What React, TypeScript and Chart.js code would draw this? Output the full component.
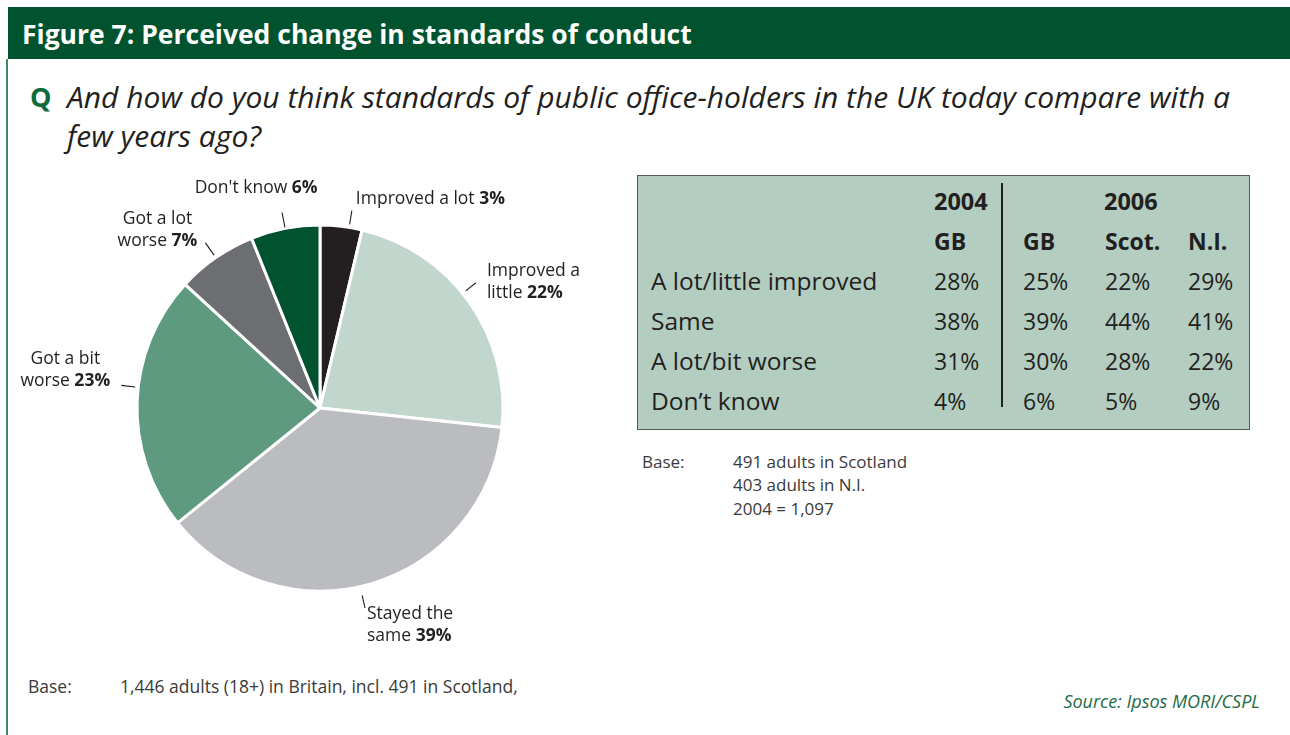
import React, { useEffect, useRef } from "react";
import { Chart, registerables } from "chart.js";

Chart.register(...registerables);

// ---- Data ----
const sliceNames: string[][] = [
  ["Improved a lot"],
  ["Improved a", "little"],
  ["Stayed the", "same"],
  ["Got a bit", "worse"],
  ["Got a lot", "worse"],
  ["Don't know"],
];
// Percentages printed on the labels
const printedPercents = [3, 22, 39, 23, 7, 6];
// Shares as drawn by the slices of the reference pie
const sliceShares = [3.7, 23.0, 37.5, 22.6, 7.1, 6.1];

const tableRowLabels = ["A lot/little improved", "Same", "A lot/bit worse", "Don’t know"];
const gb2004 = [28, 38, 31, 4];
const gb2006 = [25, 39, 30, 6];
const scot2006 = [22, 44, 28, 5];
const ni2006 = [29, 41, 22, 9];
const tableYears = ["2004", "2006"];
const tableColumnHeads = ["GB", "GB", "Scot.", "N.I."];

// ---- Styles / layout ----
const sliceColors = ["#231f20", "#c1d7cd", "#bbbcc0", "#5e9a80", "#6d6e71", "#00532e"];
const FONT = '"Open Sans", "Noto Sans", sans-serif';
const TEXT = "#231f20";
const DARK_GREEN = "#00532e";
const PIE_FONT_SIZE = 17.5;

const labelLayout = [
  { nudge: 2.5, r0: 3, r1: 17, dx: 4, dy: -12, align: "left" },
  { nudge: -3.5, r0: 4, r1: 17, dx: 11, dy: -12, align: "left" },
  { nudge: 3.7, r0: 9, r1: 22, dx: 2, dy: 6, align: "left" },
  { nudge: 4.7, r0: 3, r1: 17, dx: -56, dy: -26, align: "center" },
  { nudge: 0, r0: 3, r1: 18, dx: -48, dy: -24, align: "center" },
  { nudge: 0, r0: 1, r1: 16, dx: -26, dy: -25, align: "center" },
];

const pieLabelPlugin = {
  id: "pieLabels",
  afterDraw(chart: any) {
    const ctx = chart.ctx as CanvasRenderingContext2D;
    const meta = chart.getDatasetMeta(0);
    ctx.save();
    meta.data.forEach((arc: any, i: number) => {
      const lay = labelLayout[i];
      const { x: cx, y: cy, startAngle, endAngle, outerRadius } = arc.getProps(
        ["x", "y", "startAngle", "endAngle", "outerRadius"],
        true
      );
      const mid = (startAngle + endAngle) / 2 + (lay.nudge * Math.PI) / 180;
      const R = outerRadius;
      const p0 = { x: cx + Math.cos(mid) * (R + lay.r0), y: cy + Math.sin(mid) * (R + lay.r0) };
      const p1 = { x: cx + Math.cos(mid) * (R + lay.r1), y: cy + Math.sin(mid) * (R + lay.r1) };
      ctx.strokeStyle = TEXT;
      ctx.lineWidth = 1.1;
      ctx.beginPath();
      ctx.moveTo(p0.x, p0.y);
      ctx.lineTo(p1.x, p1.y);
      ctx.stroke();

      const lines = sliceNames[i];
      const pct = printedPercents[i] + "%";
      const ax = p1.x + lay.dx;
      let ly = p1.y + lay.dy;
      ctx.fillStyle = TEXT;
      ctx.textBaseline = "middle";
      ctx.textAlign = "left";
      lines.forEach((line, li) => {
        const isLast = li === lines.length - 1;
        const normalFont = `400 ${PIE_FONT_SIZE}px ${FONT}`;
        const boldFont = `700 ${PIE_FONT_SIZE}px ${FONT}`;
        ctx.font = normalFont;
        const txt = isLast ? line + " " : line;
        const w1 = ctx.measureText(txt).width;
        ctx.font = boldFont;
        const w2 = isLast ? ctx.measureText(pct).width : 0;
        const total = w1 + w2;
        const sx = lay.align === "center" ? ax - total / 2 : ax;
        ctx.font = normalFont;
        ctx.fillText(txt, sx, ly);
        if (isLast) {
          ctx.font = boldFont;
          ctx.fillText(pct, sx + w1, ly);
        }
        ly += 22;
      });
    });
    ctx.restore();
  },
};

function PieChart() {
  const ref = useRef<HTMLCanvasElement | null>(null);
  useEffect(() => {
    if (!ref.current) return;
    const chart = new Chart(ref.current, {
      type: "pie",
      data: {
        labels: sliceNames.map((l) => l.join(" ")),
        datasets: [
          {
            data: sliceShares,
            backgroundColor: sliceColors,
            borderColor: "#ffffff",
            borderWidth: 3,
          },
        ],
      },
      options: {
        responsive: false,
        animation: false,
        events: [],
        layout: { padding: { left: 135.5, right: 135.5, top: 63.5, bottom: 67.5 } },
        plugins: { legend: { display: false }, tooltip: { enabled: false } },
      },
      plugins: [pieLabelPlugin],
    });
    return () => chart.destroy();
  }, []);
  return (
    <canvas
      ref={ref}
      width={640}
      height={500}
      style={{ position: "absolute", left: 0, top: 160, width: 640, height: 500 }}
    />
  );
}

function Abs(props: { left: number; cy: number; size: number; children: any; style?: any }) {
  const lh = Math.round(props.size * 1.4);
  return (
    <div
      style={{
        position: "absolute",
        left: props.left,
        top: props.cy - lh / 2,
        lineHeight: lh + "px",
        fontSize: props.size,
        whiteSpace: "nowrap",
        ...(props.style || {}),
      }}
    >
      {props.children}
    </div>
  );
}

export default function App() {
  const colX = [934, 1023, 1105, 1188];
  const rowY = [281, 321, 361, 401];
  const cols = [gb2004, gb2006, scot2006, ni2006];
  const NOTE = { color: "#3a3a3a" };
  return (
    <div
      style={{
        position: "absolute",
        left: 0,
        top: 0,
        width: 1290,
        height: 735,
        overflow: "hidden",
        background: "#ffffff",
        fontFamily: FONT,
        color: TEXT,
      }}
    >
      {/* header */}
      <div style={{ position: "absolute", left: 8, top: 7, width: 1282, height: 52, background: DARK_GREEN }} />
      <Abs left={22} cy={34} size={26.5} style={{ color: "#ffffff", fontWeight: 700 }}>
        Figure 7: Perceived change in standards of conduct
      </Abs>
      <div style={{ position: "absolute", left: 6, top: 59, width: 2, height: 676, background: "#3f8a64" }} />

      {/* question */}
      <Abs left={30} cy={97} size={27} style={{ color: "#0b6b3a", fontWeight: 700 }}>
        Q
      </Abs>
      <Abs left={67} cy={97} size={30} style={{ fontStyle: "italic" }}>
        And how do you think standards of public office-holders in the UK today compare with a
      </Abs>
      <Abs left={67} cy={136} size={30} style={{ fontStyle: "italic" }}>
        few years ago?
      </Abs>

      <PieChart />

      {/* table */}
      <div
        style={{
          position: "absolute",
          left: 637,
          top: 175,
          width: 611,
          height: 253,
          background: "#b3cdc1",
          border: "1.5px solid #58595b",
        }}
      />
      <div style={{ position: "absolute", left: 1001, top: 183, width: 1.5, height: 224, background: "#231f20" }} />
      <Abs left={934} cy={201} size={23.5} style={{ fontWeight: 700 }}>
        {tableYears[0]}
      </Abs>
      <Abs left={1104} cy={201} size={23.5} style={{ fontWeight: 700 }}>
        {tableYears[1]}
      </Abs>
      {tableColumnHeads.map((h, i) => (
        <Abs key={"h" + i} left={colX[i]} cy={241} size={23} style={{ fontWeight: 700 }}>
          {h}
        </Abs>
      ))}
      {tableRowLabels.map((r, ri) => (
        <Abs key={"r" + ri} left={651} cy={rowY[ri]} size={24.5}>
          {r}
        </Abs>
      ))}
      {cols.map((col, ci) =>
        col.map((v, ri) => (
          <Abs key={"c" + ci + "_" + ri} left={colX[ci]} cy={rowY[ri]} size={23}>
            {v + "%"}
          </Abs>
        ))
      )}

      {/* table base note */}
      <Abs left={642} cy={462} size={17} style={NOTE}>
        Base:
      </Abs>
      <Abs left={733} cy={462} size={17} style={NOTE}>
        491 adults in Scotland
      </Abs>
      <Abs left={733} cy={485} size={17} style={NOTE}>
        403 adults in N.I.
      </Abs>
      <Abs left={733} cy={509} size={17} style={NOTE}>
        2004 = 1,097
      </Abs>

      {/* bottom base note */}
      <Abs left={28} cy={686} size={17.5} style={NOTE}>
        Base:
      </Abs>
      <Abs left={120} cy={686} size={17.5} style={NOTE}>
        1,446 adults (18+) in Britain, incl. 491 in Scotland,
      </Abs>

      {/* source */}
      <div
        style={{
          position: "absolute",
          right: 30,
          top: 701 - 13,
          lineHeight: "26px",
          fontSize: 18,
          fontStyle: "italic",
          color: "#1f6b45",
          whiteSpace: "nowrap",
        }}
      >
        Source: Ipsos MORI/CSPL
      </div>
    </div>
  );
}
